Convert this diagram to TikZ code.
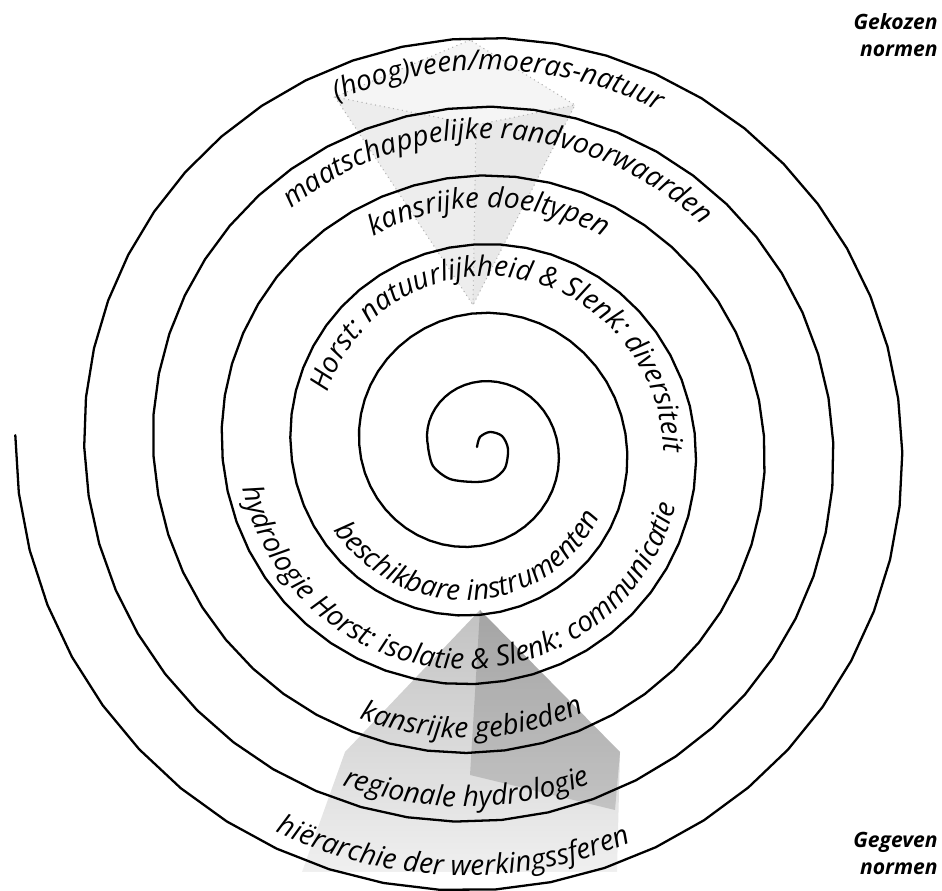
\documentclass[tikz,border=0pt]{standalone}
\usepackage{fontspec}
\setmainfont{Open Sans}
\usetikzlibrary{decorations.text}

\newcommand{\arcfont}{\itshape\fontsize{16}{19}\selectfont}

\tikzset{
  spiral/.style={line width=1.3pt, line join=round, line cap=round},
  arctext/.style={decorate, decoration={text along path, text align=center,
    text={|\arcfont|#1}}},
  norm/.style={font=\bfseries\itshape\fontsize{12}{15.5}\selectfont, align=right, inner sep=0pt},
  edge/.style={draw=black!30, dotted, line width=0.6pt},
}

\begin{document}
\begin{tikzpicture}[x=0.02cm, y=0.02cm]
  \useasboundingbox (0,0) rectangle (942,891);

  % Chosen norms: inverted pyramid
  \fill[black!4] (470,851) -- (335,794) -- (476,766) -- (575,786) -- cycle;
  \fill[black!7] (335,794) -- (476,766) -- (473,586) -- cycle;
  \fill[black!9] (476,766) -- (575,786) -- (473,586) -- cycle;
  \draw[edge] (470,851) -- (335,794) -- (476,766) -- (575,786) -- cycle;
  \draw[edge] (335,794) -- (473,586) -- (575,786);
  \draw[edge] (476,766) -- (473,586);

  % Given norms: pyramid
  \shade[top color=black!24, bottom color=black!6]
    (480,281) -- (345,139) -- (302,19) -- (617,19) -- (620,139) -- cycle;
  \fill[black, opacity=0.15] (480,281) -- (620,139) -- (615,81) -- (470,116) -- cycle;

  % Spiral and its labels
  \begin{scope}[shift={(476,444)}]
    \draw[spiral] plot[smooth] coordinates {(1,0) (4,10) (14,15) (26,11) (32,-2)
        (29,-21) (17,-32) (0,-35) (-26,-32) (-43,-19) (-48,0)}
      -- plot[domain=4:28.02, samples=300, variable=\k] ({180-90*\k}:{17.2*\k-21});

    % outward, read clockwise
    \path[arctext={(hoog)veen/moeras-natuur}]
      plot[domain=24.4:25.66, samples=80, variable=\k] ({180-90*\k}:{17.2*\k-53});
    \path[arctext={maatschappelijke randvoorwaarden}]
      plot[domain=20.2:21.86, samples=80, variable=\k] ({180-90*\k}:{17.2*\k-53});
    \path[arctext={kansrijke doeltypen}]
      plot[domain=16.4:17.64, samples=80, variable=\k] ({180-90*\k}:{17.2*\k-53});
    \path[arctext={Horst: natuurlijkheid {\&} Slenk: diversiteit}]
      plot[domain=11.55:14.55, samples=120, variable=\k] ({180-90*\k}:{17.2*\k-53});

    % inward, read counter-clockwise
    \path[arctext={beschikbare instrumenten}]
      plot[domain=11.85:10.1, samples=80, variable=\k] ({180-90*\k}:{17.2*\k-36});
    \path[arctext={hydrologie Horst: isolatie {\&} Slenk: communicatie}]
      plot[domain=16.35:13.63, samples=120, variable=\k] ({180-90*\k}:{17.2*\k-36});
    \path[arctext={kansrijke gebieden}]
      plot[domain=19.5:18.5, samples=80, variable=\k] ({180-90*\k}:{17.2*\k-36});
    \path[arctext={regionale hydrologie}]
      plot[domain=23.5:22.52, samples=80, variable=\k] ({180-90*\k}:{17.2*\k-36});
    \path[arctext={hiërarchie der werkingssferen}]
      plot[domain=27.5:26.56, samples=80, variable=\k] ({180-90*\k}:{17.2*\k-36});
  \end{scope}

  % Corner labels
  \node[norm, anchor=north east] (gekozen) at (938,878) {Gekozen\\normen};
  \node[norm, anchor=south east] (gegeven) at (938,16) {Gegeven\\normen};
\end{tikzpicture}
\end{document}
